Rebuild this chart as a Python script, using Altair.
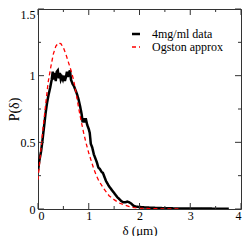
import altair as alt
import pandas as pd

# 4mg/ml data (black)
data_x = [0.00, 0.03, 0.06, 0.09, 0.12, 0.15, 0.18, 0.21, 0.24, 0.27, 0.29, 0.31, 0.33, 0.35,
          0.37, 0.39, 0.41, 0.43, 0.45, 0.47, 0.49, 0.51, 0.53, 0.55, 0.57, 0.59, 0.61, 0.63,
          0.65, 0.68, 0.71, 0.74, 0.77, 0.80, 0.83, 0.86, 0.88, 0.90, 0.92, 0.94, 0.97, 1.00,
          1.02, 1.04, 1.07, 1.10, 1.13, 1.16, 1.19, 1.22, 1.25, 1.28, 1.31, 1.34, 1.37, 1.40,
          1.44, 1.48, 1.52, 1.56, 1.60, 1.64, 1.68, 1.72, 1.76, 1.80, 1.84, 1.88, 1.92, 2.00,
          2.10, 2.20, 2.40, 2.60, 2.80, 3.00, 3.20, 3.40, 3.60, 3.76]
data_y = [0.29, 0.37, 0.43, 0.52, 0.62, 0.72, 0.80, 0.86, 0.91, 0.97, 1.03, 0.97, 1.02, 0.96,
          1.03, 1.04, 0.98, 1.02, 0.97, 0.99, 0.97, 1.00, 0.96, 0.99, 1.03, 0.99, 1.02, 1.04,
          0.97, 0.94, 0.92, 0.89, 0.86, 0.82, 0.77, 0.71, 0.65, 0.68, 0.65, 0.68, 0.63, 0.60,
          0.57, 0.49, 0.46, 0.41, 0.38, 0.35, 0.31, 0.30, 0.28, 0.27, 0.24, 0.21, 0.19, 0.17,
          0.15, 0.13, 0.11, 0.09, 0.075, 0.06, 0.05, 0.05, 0.055, 0.05, 0.04, 0.025, 0.018, 0.015,
          0.012, 0.01, 0.007, 0.005, 0.004, 0.004, 0.003, 0.003, 0.002, 0.002]

# Ogston approx (red dashed)
ogston_x = [0.00, 0.05, 0.10, 0.15, 0.20, 0.25, 0.30, 0.35, 0.40, 0.45, 0.50, 0.55, 0.60, 0.65,
            0.70, 0.75, 0.80, 0.85, 0.90, 0.95, 1.00, 1.05, 1.10, 1.15, 1.20, 1.30, 1.40, 1.50,
            1.60, 1.70, 1.80, 1.90, 2.00, 2.20, 2.50, 2.80]
ogston_y = [0.22, 0.42, 0.61, 0.78, 0.95, 1.06, 1.16, 1.22, 1.245, 1.24, 1.21, 1.16, 1.10, 1.04,
            0.97, 0.87, 0.76, 0.66, 0.57, 0.49, 0.42, 0.36, 0.30, 0.25, 0.21, 0.15, 0.10, 0.07,
            0.045, 0.03, 0.018, 0.01, 0.006, 0.003, 0.001, 0.0]

series_names = ["4mg/ml data", "Ogston approx"]
series_colors = ["black", "red"]

x_major = [0, 1, 2, 3, 4]
x_minor = [0.5, 1.5, 2.5, 3.5]
y_major = [0, 0.5, 1, 1.5]
y_minor = [0.25, 0.75, 1.25]

W, H = 203, 200
FONT = "Liberation Serif"
tick_color = "#333333"

df = pd.concat([
    pd.DataFrame({"x": data_x, "y": data_y, "s": series_names[0], "o": range(len(data_x))}),
    pd.DataFrame({"x": ogston_x, "y": ogston_y, "s": series_names[1], "o": range(len(ogston_x))}),
])

xscale = alt.Scale(domain=[0, 4], nice=False)
yscale = alt.Scale(domain=[0, 1.5], nice=False)

x_axis = alt.Axis(values=x_major, format="~g", tickSize=0, domain=False, grid=False,
                  labelFont=FONT, labelFontSize=12, labelPadding=1, labelColor="black",
                  titleFont=FONT, titleFontSize=13, titleFontWeight="normal",
                  titleColor="black", titleY=25, titleBaseline="alphabetic")
y_axis = alt.Axis(values=y_major, format="~g", tickSize=0, domain=False, grid=False,
                  labelFont=FONT, labelFontSize=12, labelPadding=3, labelColor="black",
                  labelFlush=False, labelOffset=alt.expr("datum.value == 1.5 ? 5 : 0"),
                  titleFont=FONT, titleFontSize=14, titleFontWeight="normal",
                  titleColor="black", titleX=-24, titleBaseline="middle")
X_TITLE = "δ (μm)"
Y_TITLE = "P(δ)"

lines = alt.Chart(df).mark_line(clip=True).encode(
    x=alt.X("x:Q", scale=xscale, title=X_TITLE, axis=x_axis),
    y=alt.Y("y:Q", scale=yscale, title=Y_TITLE, axis=y_axis),
    order="o:Q",
    color=alt.Color("s:N", scale=alt.Scale(domain=series_names, range=series_colors),
                    legend=alt.Legend(title=None, orient="none", legendX=92, legendY=19,
                                      symbolType="stroke", symbolSize=64, labelFont=FONT,
                                      labelFontSize=12, labelColor="black", labelOffset=10,
                                      rowPadding=1, padding=0)),
    strokeDash=alt.StrokeDash("s:N", scale=alt.Scale(domain=series_names, range=[[1, 0], [4, 3]]),
                              legend=None),
    strokeWidth=alt.StrokeWidth("s:N", scale=alt.Scale(domain=series_names, range=[2.5, 1.3]),
                                legend=None),
)

def tick_df(vals, kind):
    return pd.DataFrame({"x": vals, "y": vals, "k": kind})

xt = pd.concat([tick_df(x_major, "major"), tick_df(x_minor, "minor")])
yt = pd.concat([tick_df(y_major, "major"), tick_df(y_minor, "minor")])

def xticks(bottom):
    layers = []
    for kind, ln in [("major", 6), ("minor", 3)]:
        d = xt[xt.k == kind]
        y0 = H if bottom else 0
        y1 = H - ln if bottom else ln
        layers.append(alt.Chart(d).mark_rule(color=tick_color, strokeWidth=1).encode(
            x=alt.X("x:Q", scale=xscale, title=X_TITLE, axis=x_axis),
            y=alt.value(y0), y2=alt.value(y1)))
    return layers

def yticks(left):
    layers = []
    for kind, ln in [("major", 6), ("minor", 3)]:
        d = yt[yt.k == kind]
        x0 = 0 if left else W
        x1 = ln if left else W - ln
        layers.append(alt.Chart(d).mark_rule(color=tick_color, strokeWidth=1).encode(
            y=alt.Y("y:Q", scale=yscale, title=Y_TITLE, axis=y_axis),
            x=alt.value(x0), x2=alt.value(x1)))
    return layers

chart = alt.layer(
    lines, *xticks(True), *xticks(False), *yticks(True), *yticks(False)
).properties(
    width=W, height=H,
    autosize=alt.AutoSizeParams(type="none"),
    padding={"left": 30, "top": 1, "right": 3, "bottom": 27},
    background="white",
).configure_view(stroke=tick_color, strokeWidth=1)

chart.save("out.html", embed_options={"renderer": "svg", "actions": False})
